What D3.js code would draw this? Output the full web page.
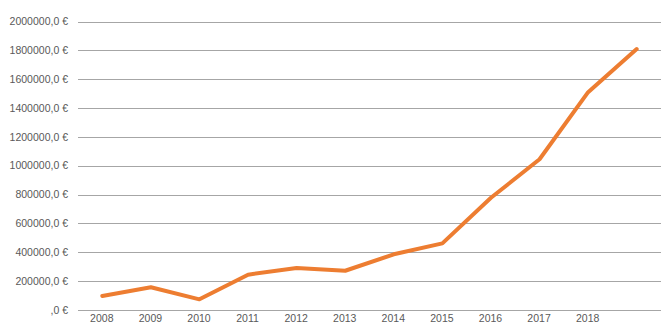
<!DOCTYPE html>
<html>
<head>
<meta charset="utf-8">
<script src="https://cdn.jsdelivr.net/npm/d3@7/dist/d3.min.js"></script>
<style>
  html, body { margin: 0; padding: 0; background: #fff; }
  svg text { font-family: "Liberation Sans", Arial, sans-serif; font-size: 10.5px; fill: #595959; }
</style>
</head>
<body>
<svg id="chart" width="668" height="330"></svg>
<script>
// Years on the category axis; the last slot carries no label
const categories = ["2008", "2009", "2010", "2011", "2012", "2013", "2014", "2015", "2016", "2017", "2018", ""];
// Yearly amounts in euros
const values = [97000, 158000, 74000, 245000, 291000, 272000, 386000, 462000, 778000, 1045000, 1510000, 1809000];
// Value-axis ticks
const yTicks = [0, 200000, 400000, 600000, 800000, 1000000, 1200000, 1400000, 1600000, 1800000, 2000000];

const svg = d3.select("#chart");
const plot = { left: 78, right: 661, top: 21.5, bottom: 310 };

const x = d3.scalePoint().domain(d3.range(categories.length)).range([plot.left, plot.right]).padding(0.5);
const y = d3.scaleLinear().domain([0, 2000000]).range([plot.bottom, plot.top]);

const fmt = v => (v === 0 ? "" : String(v)) + ",0 €";

// Horizontal gridlines with value labels
const yAxis = d3.axisLeft(y).tickValues(yTicks).tickSize(-(plot.right - plot.left)).tickFormat(fmt).tickPadding(10);
const gy = svg.append("g").attr("transform", `translate(${plot.left},0)`).call(yAxis);
gy.select(".domain").remove();
gy.selectAll(".tick line").attr("stroke", "#a6a6a6").attr("stroke-width", 1).attr("shape-rendering", "crispEdges");
gy.selectAll(".tick text").attr("fill", "#595959").attr("dy", "0.3em");

// Category labels
const xAxis = d3.axisBottom(x).tickFormat(i => categories[i]).tickSize(0).tickPadding(5);
const gx = svg.append("g").attr("transform", `translate(0,${plot.bottom})`).call(xAxis);
gx.select(".domain").remove();
gx.selectAll(".tick text").attr("fill", "#595959").attr("x", -1);

// Data line
const line = d3.line().x((d, i) => x(i)).y(d => y(d));
svg.append("path")
  .datum(values)
  .attr("d", line)
  .attr("fill", "none")
  .attr("stroke", "#ED7D31")
  .attr("stroke-width", 4)
  .attr("stroke-linejoin", "round")
  .attr("stroke-linecap", "round");
</script>
</body>
</html>
